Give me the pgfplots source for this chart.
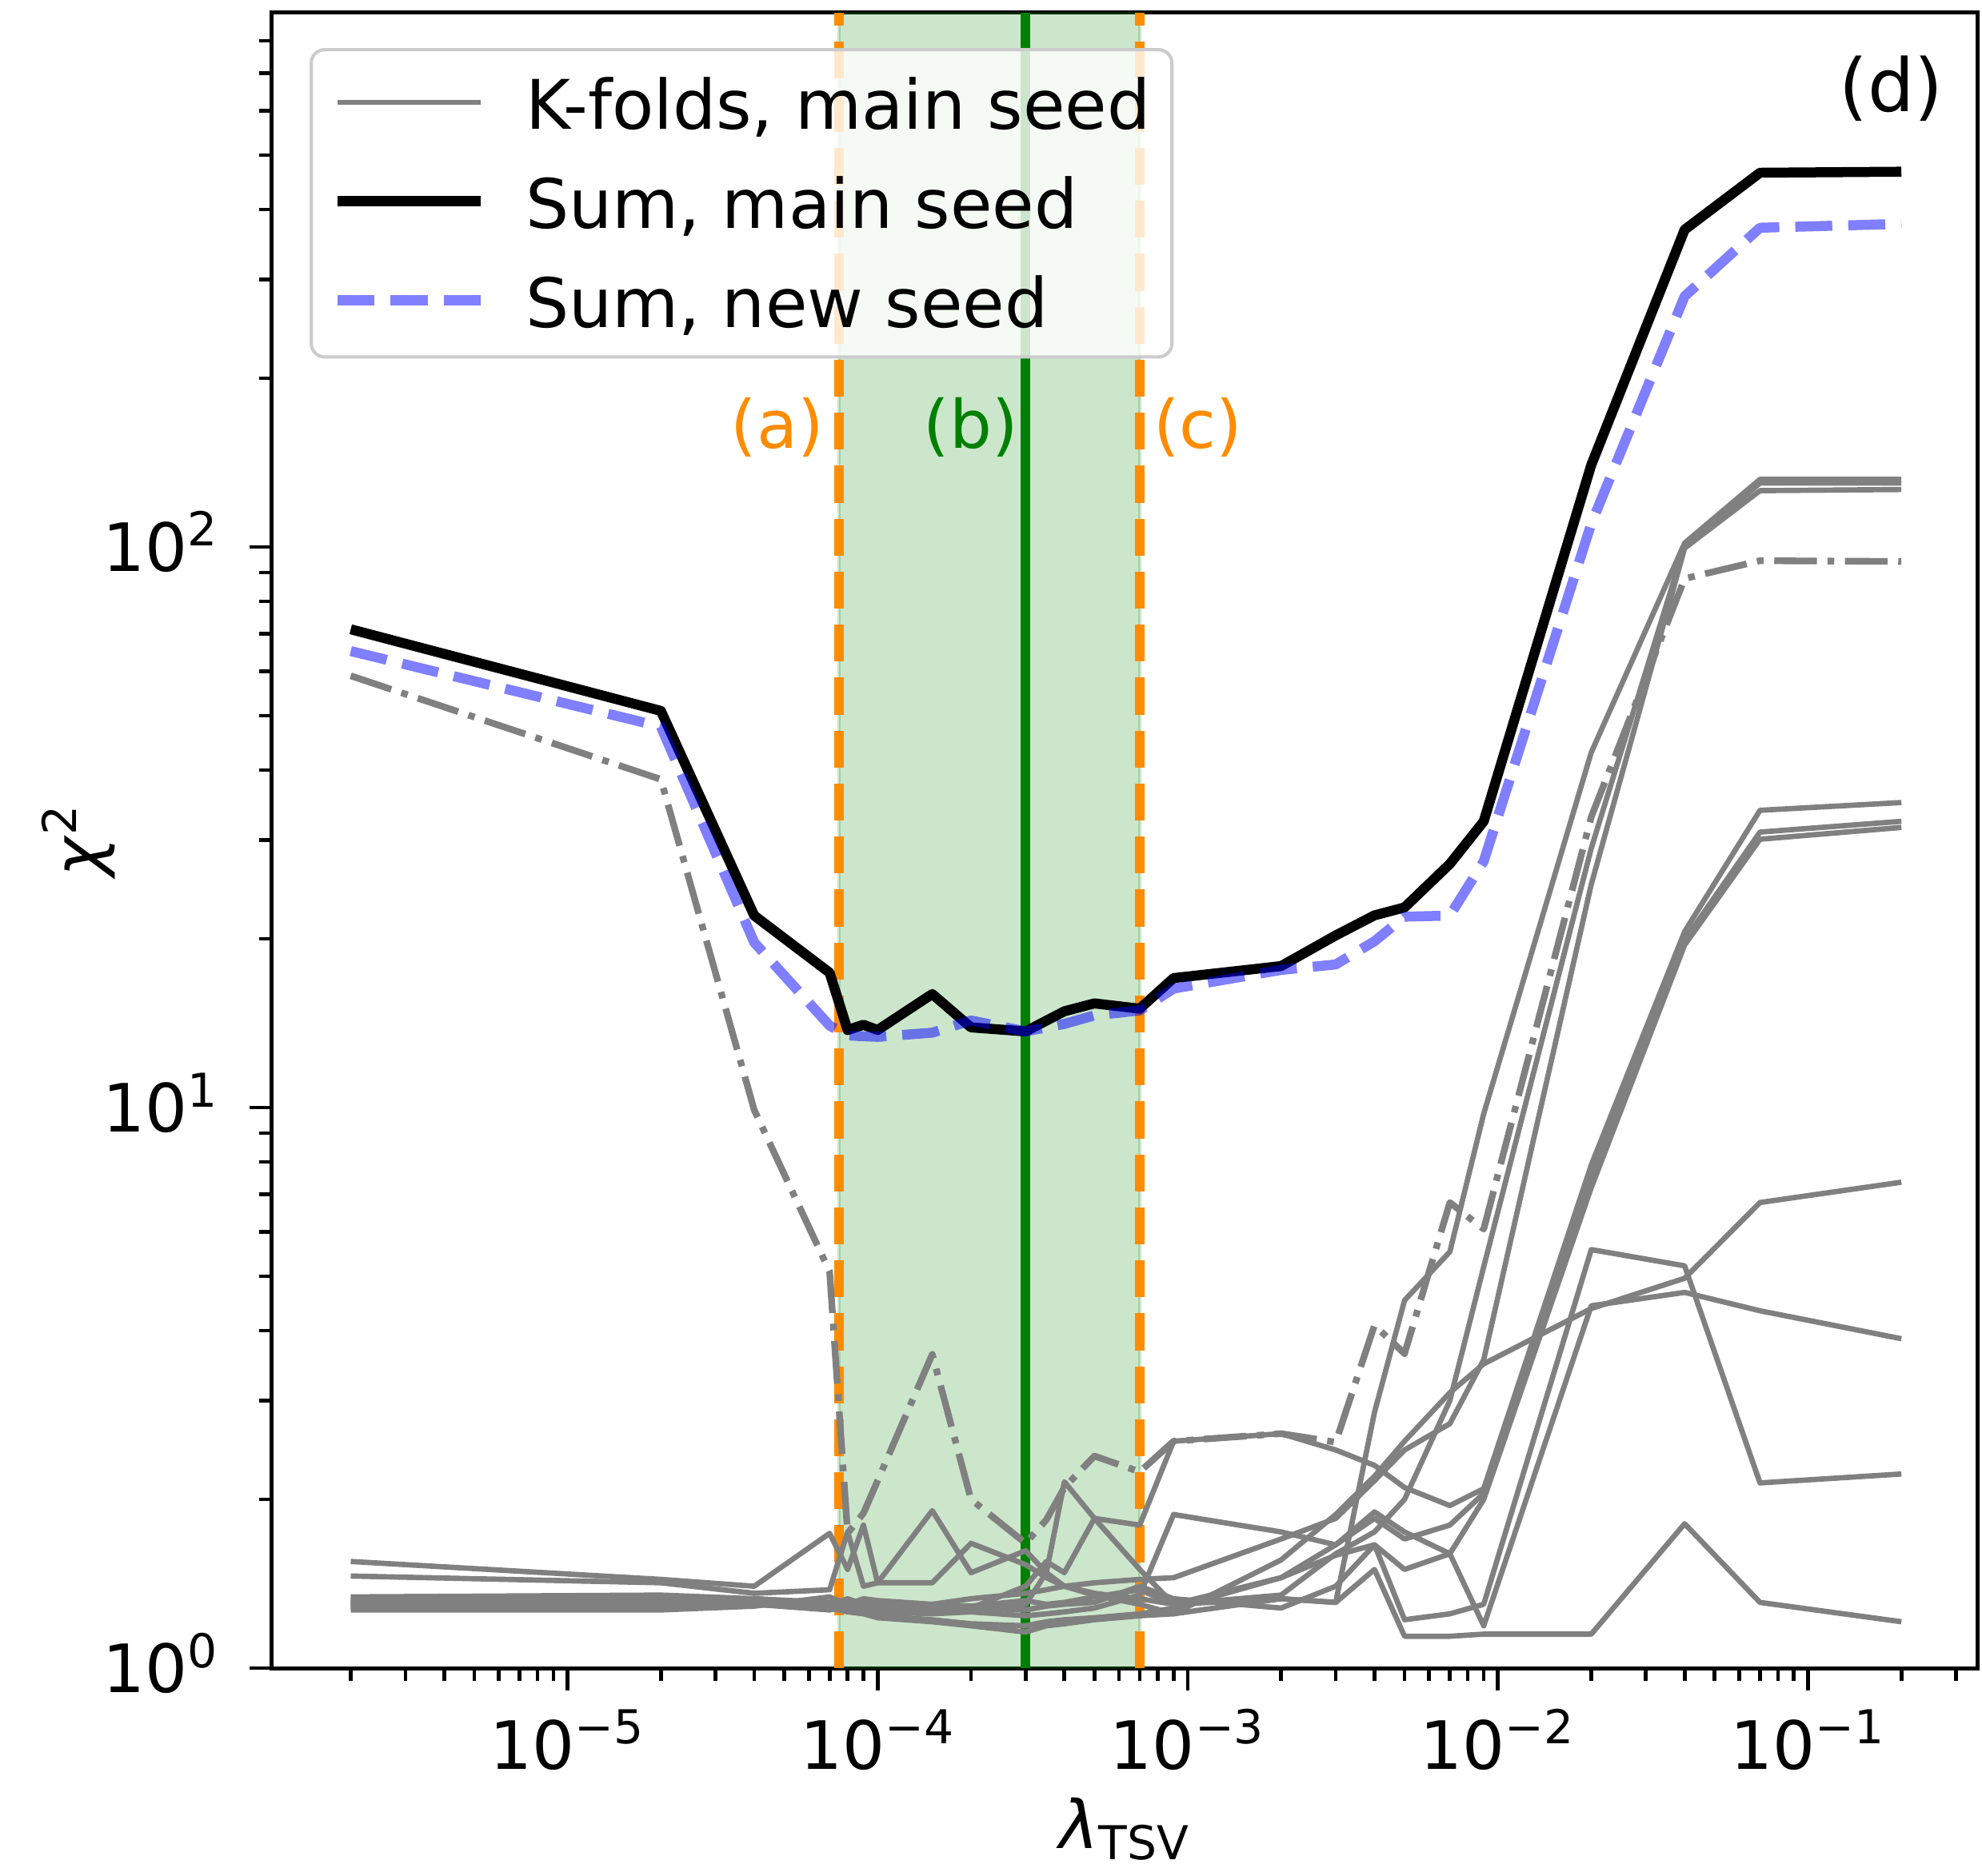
\documentclass[border=0pt]{standalone}
\usepackage{fontspec}
\setmainfont{DejaVu Sans}
\usepackage{pgfplots}
\usepackage{pgfplotstable}
\pgfplotsset{compat=1.18}

\definecolor{foldgrey}{RGB}{128,128,128}
\definecolor{darkorange}{RGB}{255,140,0}
\definecolor{mplgreen}{RGB}{0,128,0}
\definecolor{legendedge}{RGB}{204,204,204}

\newcommand{\bigfont}{\fontsize{20}{24}\selectfont}

% chi^2 of the individual folds, main seed (k1..k10 solid, dd dash-dotted)
\pgfplotstableread{
lam     k1     k2     k3     k4    k5    k6    k7    k8    k9    k10   dd
2e-6    1.55   1.46   1.34   1.33  1.32  1.31  1.29  1.28  1.27  1.30  58.9
2e-5    1.44   1.42   1.35   1.33  1.31  1.32  1.30  1.29  1.27  1.31  38.5
4e-5    1.40   1.36   1.33   1.32  1.30  1.33  1.31  1.30  1.29  1.30  9.9
7e-5    1.74   1.38   1.30   1.30  1.29  1.31  1.29  1.28  1.34  1.27  5.1
8e-5    1.50   1.75   1.33   1.28  1.31  1.30  1.27  1.26  1.30  1.29  1.74
9e-5    1.80   1.40   1.30   1.32  1.30  1.27  1.26  1.25  1.33  1.28  1.89
1e-4    1.42   1.42   1.28   1.30  1.29  1.26  1.24  1.23  1.32  1.27  2.16
1.5e-4  1.42   1.91   1.30   1.28  1.27  1.25  1.22  1.21  1.30  1.26  3.63
2e-4    1.67   1.48   1.33   1.27  1.28  1.26  1.20  1.19  1.29  1.28  2.00
3e-4    1.53   1.62   1.36   1.30  1.40  1.24  1.19  1.16  1.32  1.27  1.67
3.5e-4  1.45   1.48   1.38   1.48  1.55  1.25  1.21  1.19  1.30  1.29  1.84
4e-4    1.40   1.40   1.40   2.15  1.48  1.26  1.22  1.20  1.31  1.30  2.10
5e-4    1.35   1.36   1.42   1.85  1.85  1.28  1.23  1.22  1.34  1.31  2.39
7e-4    1.30   1.33   1.44   1.50  1.80  1.35  1.25  1.24  1.38  1.40  2.24
9e-4    1.25   1.30   1.45   1.30  2.54  1.88  1.28  1.25  1.30  1.33  2.54
2e-3    1.33   1.35   1.70   1.33  2.62  1.75  1.45  1.56  1.45  1.28  2.62
3e-3    1.31   1.60   1.85   1.31  2.45  1.66  1.66  1.88  1.59  1.40  2.53
4e-3    2.86   1.75   2.16   1.50  2.30  1.85  1.90  2.20  1.66  1.66  4.09
5e-3    4.53   2.00   2.45   1.14  2.10  1.70  1.75  2.54  1.50  1.22  3.64
7e-3    5.53   3.00   2.73   1.14  1.95  1.80  1.60  3.10  1.60  1.25  6.77
9e-3    9.75   5.20   3.55   1.15  2.09  2.05  2.00  3.49  1.19  1.30  6.07
2e-2    43     29     25     1.15  7.9   7.5   7.2   4.38  4.43  5.58  33
4e-2    101.6  100.5  99.5   1.81  20.6  19.9  19.5  4.96  4.68  5.22  87.8
7e-2    132    130    126    1.31  33.9  31.0  30.1  6.77  4.34  2.14  94.5
2e-1    132    130    126.6  1.21  35.0  32.4  31.6  7.36  3.87  2.22  94.2
}\folds

% summed chi^2, main seed
\pgfplotstableread{
lam     chi
2e-6    71.3
2e-5    51.0
4e-5    22.0
7e-5    17.4
8e-5    13.75
9e-5    14.05
1e-4    13.75
1.5e-4  15.94
2e-4    13.90
3e-4    13.67
4e-4    14.85
5e-4    15.34
7e-4    15.01
9e-4    17.02
2e-3    17.88
3e-3    20.28
4e-3    22.02
5e-3    22.75
7e-3    27.2
9e-3    32.4
2e-2    140
4e-2    368
7e-2    465
2e-1    467
}\summain

% summed chi^2, new seed
\pgfplotstableread{
lam     chi
2e-6    65.2
2e-5    47.8
4e-5    19.7
7e-5    14.0
8e-5    13.45
9e-5    13.4
1e-4    13.37
1.5e-4  13.6
2e-4    14.3
3e-4    13.67
4e-4    14.1
5e-4    14.6
7e-4    14.9
9e-4    16.3
2e-3    17.6
3e-3    18.0
4e-3    19.8
5e-3    21.9
7e-3    22.0
9e-3    27.5
2e-2    110
4e-2    280
7e-2    371
2e-1    377
}\sumnew

\begin{document}
\begin{tikzpicture}
\begin{axis}[
  at={(0pt,0pt)}, anchor=south west,
  scale only axis, width=511.9pt, height=496.8pt,
  xmode=log, ymode=log,
  xmin=1.114e-6, xmax=0.3532, ymin=1, ymax=897,
  axis line style={line width=1.2pt},
  tick align=outside, tick pos=left,
  major tick length=6.8pt, minor tick length=3.8pt,
  tick style={black, line width=1.1pt},
  xtick={1e-5,1e-4,1e-3,1e-2,1e-1},
  xticklabels={10\textsuperscript{−5},10\textsuperscript{−4},10\textsuperscript{−3},10\textsuperscript{−2},10\textsuperscript{−1}},
  minor xtick={2e-6,3e-6,4e-6,5e-6,6e-6,7e-6,8e-6,9e-6,
               2e-5,3e-5,4e-5,5e-5,6e-5,7e-5,8e-5,9e-5,
               2e-4,3e-4,4e-4,5e-4,6e-4,7e-4,8e-4,9e-4,
               2e-3,3e-3,4e-3,5e-3,6e-3,7e-3,8e-3,9e-3,
               2e-2,3e-2,4e-2,5e-2,6e-2,7e-2,8e-2,9e-2,
               2e-1,3e-1},
  ytick={1,10,100},
  yticklabels={10\textsuperscript{0},10\textsuperscript{1},10\textsuperscript{2}},
  minor ytick={2,3,4,5,6,7,8,9,20,30,40,50,60,70,80,90,200,300,400,500,600,700,800},
  tick label style={font=\bigfont, inner sep=0pt},
  xticklabel style={anchor=base, yshift=-23.5pt},
  yticklabel style={anchor=base east, xshift=-9pt, yshift=-7.3pt},
  xlabel={\textit{λ}\textsubscript{TSV}},
  ylabel={\textit{χ}\textsuperscript{2}},
  label style={font=\bigfont},
  xlabel style={at={(axis description cs:0.5,-0.1091)}, anchor=base},
  ylabel style={at={(axis description cs:-0.1133,0.5)}, anchor=center},
  legend cell align=left,
  legend image code/.code={\draw[#1] (0pt,3.1pt) -- (42.9pt,3.1pt); \path[draw=none] (0pt,0pt) -- (0pt,15pt);},
  legend style={
    at={(0.0221,0.9787)}, anchor=north west,
    draw=legendedge, line width=1pt, rounded corners=4pt,
    fill=white, fill opacity=0.8, text opacity=1,
    inner xsep=6.4pt, inner ysep=3.9pt,
    font=\fontsize{20.5}{24}\selectfont,
    row sep=4.7pt,
    nodes={inner sep=0pt, text height=15pt, text depth=5pt},
    /tikz/every odd column/.append style={column sep=12pt},
  },
]

% selected range and the three reference values
\addplot[draw=mplgreen, draw opacity=0.2, fill=mplgreen, fill opacity=0.2,
         line width=1pt, forget plot]
  coordinates {(7.5e-5,1) (7.5e-5,897) (7e-4,897) (7e-4,1)} -- cycle;
\addplot[darkorange, line width=2.8pt, dash pattern=on 11.1pt off 4.8pt, forget plot]
  coordinates {(7.5e-5,1) (7.5e-5,897)};
\addplot[darkorange, line width=2.8pt, dash pattern=on 11.1pt off 4.8pt, forget plot]
  coordinates {(7e-4,1) (7e-4,897)};
\addplot[mplgreen, line width=2.8pt, forget plot]
  coordinates {(3e-4,1) (3e-4,897)};

% individual folds
\pgfplotsinvokeforeach{k1,k2,k3,k4,k5,k6,k7,k8,k9,k10}{
  \addplot[foldgrey, line width=1.6pt, line join=round, forget plot]
    table[x=lam, y=#1] {\folds};
}
\addplot[foldgrey, line width=2pt, line join=round,
         dash pattern=on 12.8pt off 3.2pt on 2pt off 3.2pt, forget plot]
  table[x=lam, y=dd] {\folds};

\addlegendimage{foldgrey, line width=1.6pt}
\addlegendentry{K-folds, main seed}

% sums over the folds
\addplot[black, line width=3pt, line join=round]
  table[x=lam, y=chi] {\summain};
\addlegendentry{Sum, main seed}
\addplot[blue, draw opacity=0.5, line width=3pt, line join=round,
         dash pattern=on 11.1pt off 4.8pt]
  table[x=lam, y=chi] {\sumnew};
\addlegendentry{Sum, new seed}

\node[anchor=east, inner sep=0pt, text=darkorange, font=\bigfont]
  at (rel axis cs:0.3237,0.7496) {(a)};
\node[inner sep=0pt, text=mplgreen, font=\bigfont]
  at (rel axis cs:0.4097,0.7496) {(b)};
\node[anchor=west, inner sep=0pt, text=darkorange, font=\bigfont]
  at (rel axis cs:0.5163,0.7496) {(c)};
\node[inner sep=0pt, font=\fontsize{22}{26}\selectfont]
  at (rel axis cs:0.949,0.9541) {(d)};
\end{axis}
\pgfresetboundingbox
\useasboundingbox (-81.6pt,-62.16pt) rectangle (513.1pt,500.64pt);
\end{tikzpicture}
\end{document}
